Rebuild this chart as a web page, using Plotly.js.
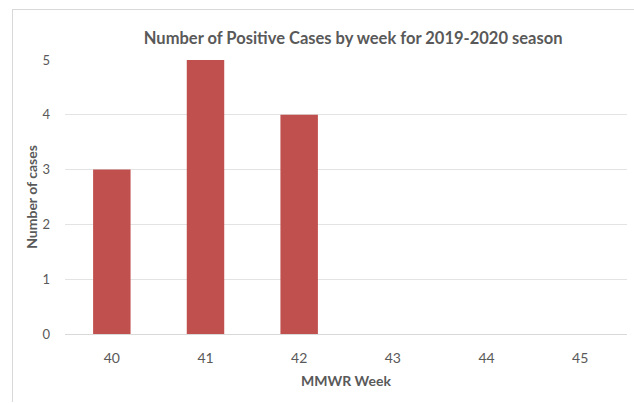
<!DOCTYPE html>
<html>
<head>
<meta charset="utf-8">
<script src="https://cdn.plot.ly/plotly-3.0.1.min.js"></script>
<style>
html,body{margin:0;padding:0;background:#fff;}
#wrap{position:relative;width:634px;height:403px;}
#chart{width:634px;height:403px;}
#frame{position:absolute;left:12px;top:9px;width:640px;height:392px;border-left:1px solid #d9d9d9;border-top:1px solid #d9d9d9;pointer-events:none;}
</style>
</head>
<body>
<div id="wrap"><div id="chart"></div><div id="frame"></div></div>
<script>
const weeks = ['40','41','42','43','44','45'];
const cases = [3, 5, 4, null, null, null];
const yTicks = [0,1,2,3,4,5];

const font = 'Lato, "Open Sans", sans-serif';
const grey = '#595959';

Plotly.newPlot('chart', [{
  type: 'bar',
  x: weeks,
  y: cases,
  marker: {color: '#c0504d'},
  hoverinfo: 'x+y'
}], {
  width: 634, height: 403,
  margin: {l: 65, r: 7, t: 60, b: 69},
  paper_bgcolor: 'rgba(0,0,0,0)',
  plot_bgcolor: 'rgba(0,0,0,0)',
  bargap: 0.6,
  showlegend: false,
  title: {
    text: '<b>Number of Positive Cases by week for 2019-2020 season</b>',
    font: {family: font, size: 16.5, color: grey},
    x: 0.557, xanchor: 'center', y: 0.905, yanchor: 'middle', yref: 'container'
  },
  xaxis: {
    type: 'category',
    tickvals: weeks,
    ticktext: weeks,
    tickfont: {family: font, size: 14, color: grey},
    ticks: '',
    showline: false,
    showgrid: false,
    ticklabelstandoff: 14,
    title: {text: '<b>MMWR Week</b>', font: {family: font, size: 14, color: grey}, standoff: 11}
  },
  yaxis: {
    range: [0, 5],
    tickvals: yTicks,
    tickfont: {family: font, size: 13, color: grey},
    ticks: '',
    showgrid: true,
    gridcolor: '#e3e3e3',
    gridwidth: 1,
    zeroline: true,
    zerolinecolor: '#d9d9d9',
    ticklabelstandoff: 14,
    title: {text: '<b>Number of cases</b>', font: {family: font, size: 14, color: grey}, standoff: 1}
  }
}, {displayModeBar: false, staticPlot: true});
</script>
</body>
</html>
